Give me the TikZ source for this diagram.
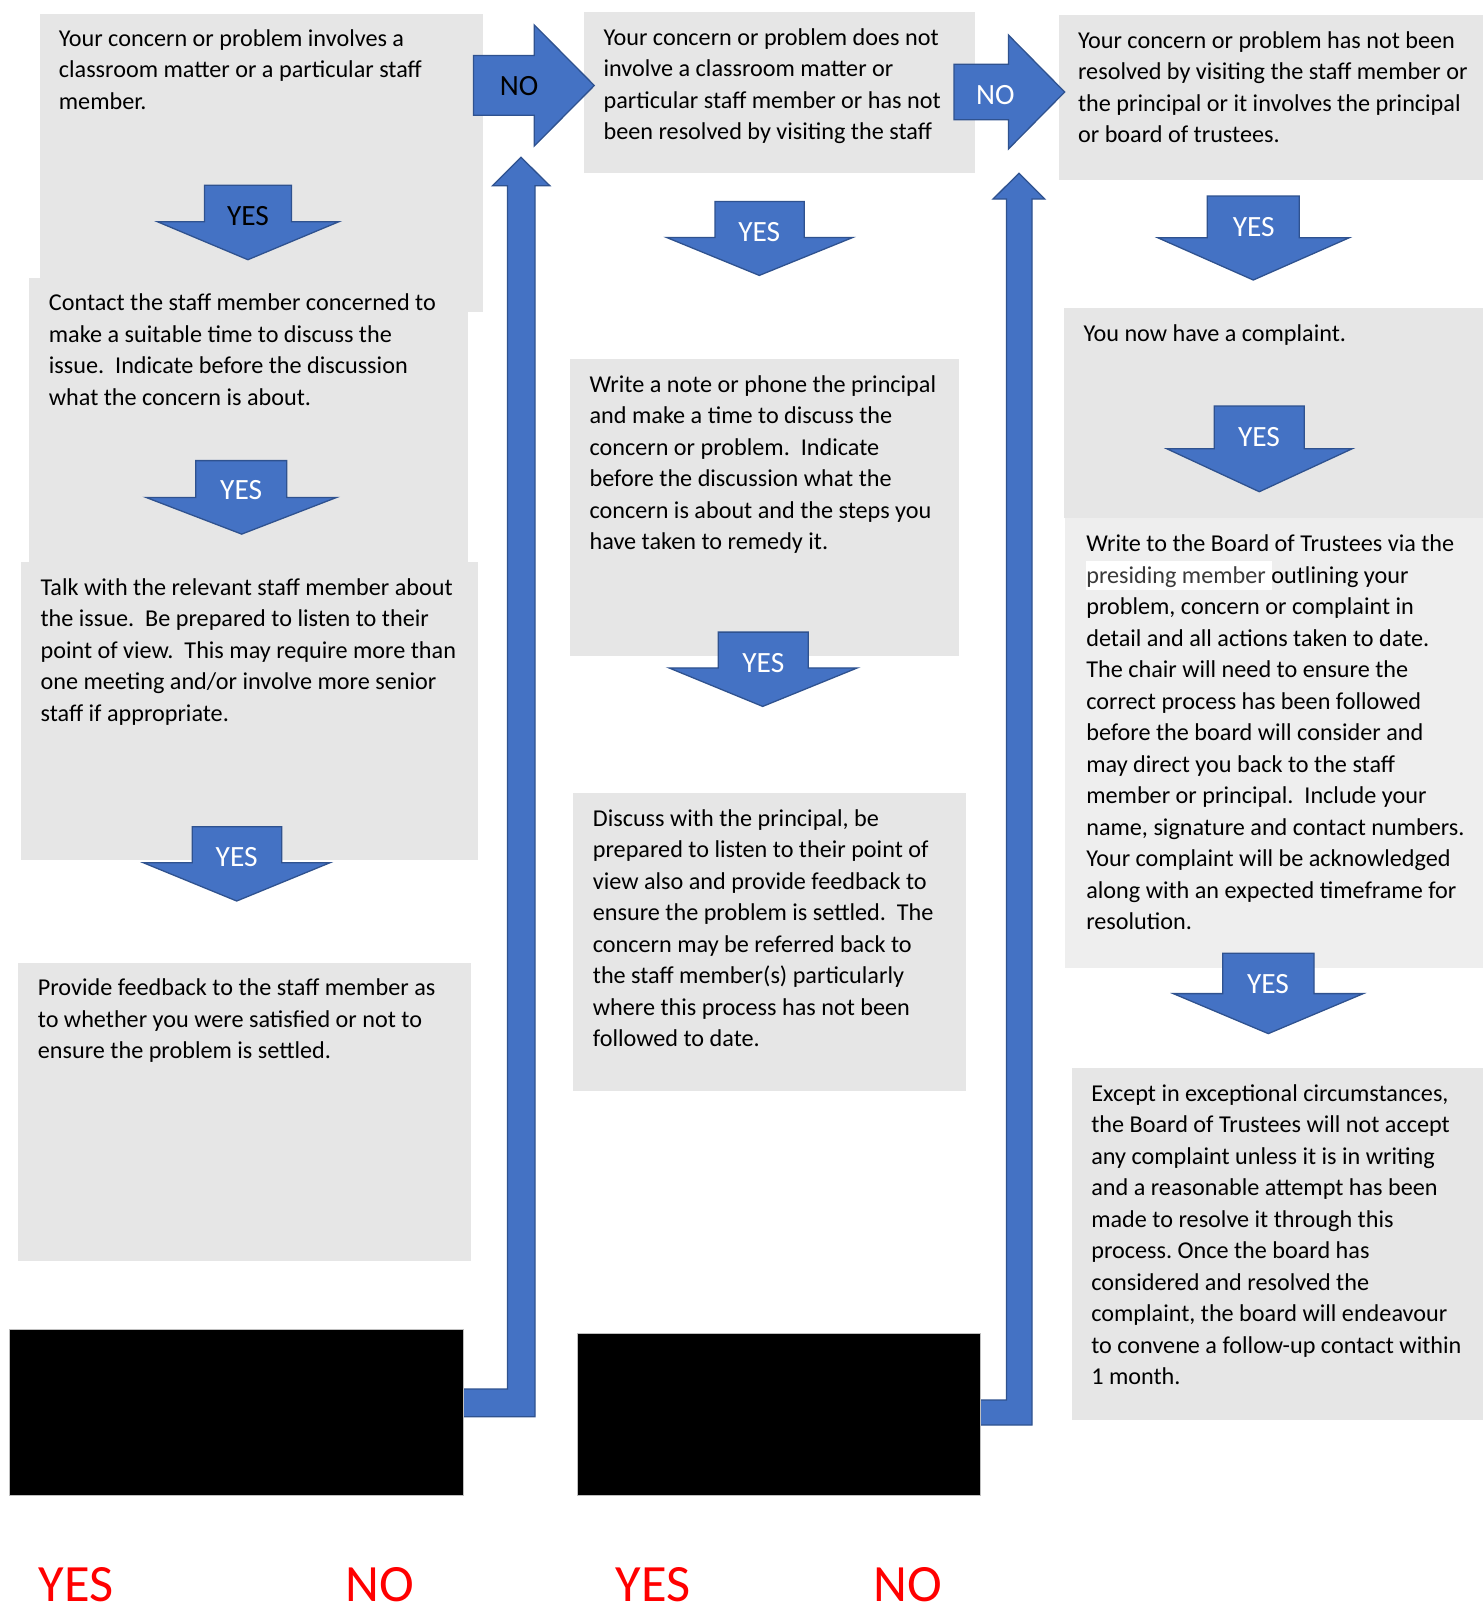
\documentclass[tikz,border=0pt]{standalone}
\usepackage{fontspec}
\setmainfont{Carlito}
\definecolor{boxgrey}{HTML}{E6E6E6}
\definecolor{boxlight}{HTML}{EEEEEE}
\definecolor{arrfill}{HTML}{4472C4}
\definecolor{arrline}{HTML}{2F528F}
\definecolor{hlgrey}{HTML}{3A3A3A}
\newcommand\txtlines[1]{\begin{tabular}[t]{@{}l@{}}#1\end{tabular}}
% shaft left, shaft right, top, head y, head left, head right, tip x, tip y
\newcommand\yesarr[8]{\draw[blk] (#1,#3) -- (#2,#3) -- (#2,#4) -- (#6,#4) -- (#7,#8) -- (#5,#4) -- (#1,#4) -- cycle;}
\tikzset{
  blk/.style={fill=arrfill, draw=arrline, line width=0.65pt, line join=miter},
  txt/.style={anchor=base west, inner sep=0pt, font=\fontsize{12.1pt}{15.75pt}\selectfont\frenchspacing},
  lbl/.style={inner sep=0pt, font=\fontsize{14.7pt}{17pt}\selectfont, text=white},
  redlbl/.style={anchor=base west, inner sep=0pt, font=\fontsize{26.2pt}{30pt}\selectfont, text=red},
  blackbox/.style={fill=black, draw=black!25, line width=0.5pt}
}
\begin{document}
\begin{tikzpicture}[x=0.5pt,y=-0.5pt]
\useasboundingbox (0,0) rectangle (1483,1614);
\fill[white] (0,0) rectangle (1483,1614);
% ---------- grey boxes ----------
\fill[boxgrey] (40,14) rectangle (483,311.5);
\fill[boxgrey] (29,278) rectangle (468,562);
\fill[boxgrey] (21,562) rectangle (477.7,860);
\fill[boxgrey] (18,963.3) rectangle (470.7,1260.7);
\fill[boxgrey] (583.5,12) rectangle (975,172.7);
\fill[boxgrey] (570,359) rectangle (959,656.4);
\fill[boxgrey] (573,793.3) rectangle (966,1090.7);
\fill[boxgrey] (1059,15) rectangle (1483,180);
\fill[boxgrey] (1064,307.7) rectangle (1483,517.7);
\fill[boxlight] (1065,517.7) rectangle (1483,967.5);
\fill[boxgrey] (1071.7,1067.5) rectangle (1483,1420);
\fill[white] (1086,561) rectangle (1272,590);
% ---------- long bent arrows ----------
\draw[blk] (450,1389) -- (507.5,1389) -- (507.5,185.7) -- (492.5,185.7) -- (521,157.3)
  -- (549.8,185.7) -- (535,185.7) -- (535,1416.7) -- (450,1416.7) -- cycle;
\draw[blk] (960,1400) -- (1006.5,1400) -- (1006.5,199) -- (993,199) -- (1019,173.3)
  -- (1044.8,199) -- (1032,199) -- (1032,1425) -- (960,1425) -- cycle;
% ---------- black boxes ----------
\node[blackbox, minimum width=227pt, minimum height=82.8pt, anchor=north west, inner sep=0pt] (blk1) at (9,1329.3) {};
\node[blackbox, minimum width=201.4pt, minimum height=80.8pt, anchor=north west, inner sep=0pt] (blk2) at (576.7,1333.3) {};
% ---------- NO arrows ----------
\draw[blk] (473.5,55.5) -- (534.3,55.5) -- (534.3,25) -- (594.3,85.5) -- (534.3,146) -- (534.3,115.3) -- (473.5,115.3) -- cycle;
\node[lbl, text=black] (no1) at (519,85.7) {NO};
\draw[blk] (954,64.3) -- (1008.4,64.3) -- (1008.4,35) -- (1064.7,92) -- (1008.4,149) -- (1008.4,119.7) -- (954,119.7) -- cycle;
\node[lbl] (no2) at (995.4,95) {NO};
% ---------- YES arrows ----------
\yesarr{204.4}{291.4}{185.3}{221.7}{157.4}{338.9}{247.9}{259.7}
\node[lbl, text=black] (yes1) at (248,215.8) {YES};
\yesarr{195.7}{286.7}{460.6}{497.4}{146}{336.7}{241.7}{534.1}
\node[lbl] (yes2) at (241.2,490.5) {YES};
\yesarr{192.3}{281.7}{826.7}{862.7}{143.3}{330}{236.7}{901}
\node[lbl] (yes3) at (236.7,857.5) {YES};
\yesarr{715}{804.3}{201.4}{237.5}{666.7}{852.7}{759.3}{275.4}
\node[lbl] (yes4) at (759.2,232) {YES};
\yesarr{718.3}{808.3}{632.1}{667.9}{669}{857.3}{762.7}{706.4}
\node[lbl] (yes5) at (763.3,662.7) {YES};
\yesarr{1207.3}{1299.3}{196}{237.7}{1157.7}{1349.3}{1253.3}{280}
\node[lbl] (yes6) at (1253.7,226.7) {YES};
\yesarr{1214.3}{1304.3}{406}{448.7}{1166.7}{1352.3}{1259.3}{491.7}
\node[lbl] (yes7) at (1259,436.8) {YES};
\yesarr{1222.7}{1314}{953.2}{993.6}{1173.3}{1363.3}{1268.3}{1033.6}
\node[lbl] (yes8) at (1268,983.6) {YES};
% ---------- texts ----------
\node[txt] (t1) at (58.5,46) {\txtlines{Your concern or problem involves a\\classroom matter or a particular staff\\member.}};
\node[txt] (t2) at (48.5,310.7) {\txtlines{Contact the staff member concerned to\\make a suitable time to discuss the\\issue.\ \ Indicate before the discussion\\what the concern is about.}};
\node[txt] (t3) at (40.2,595) {\txtlines{Talk with the relevant staff member about\\the issue.\ \ Be prepared to listen to their\\point of view.\ \ This may require more than\\one meeting and/or involve more senior\\staff if appropriate.}};
\node[txt] (t4) at (37.5,995.7) {\txtlines{Provide feedback to the staff member as\\to whether you were satisfied or not to\\ensure the problem is settled.}};
\node[txt] (t5) at (603.2,45) {\txtlines{Your concern or problem does not\\involve a classroom matter or\\particular staff member or has not\\been resolved by visiting the staff}};
\node[txt] (t6) at (589.2,392) {\txtlines{Write a note or phone the principal\\and make a time to discuss the\\concern or problem.\ \ Indicate\\before the discussion what the\\concern is about and the steps you\\have taken to remedy it.}};
\node[txt] (t7) at (592.5,826) {\txtlines{Discuss with the principal, be\\prepared to listen to their point of\\view also and provide feedback to\\ensure the problem is settled.\ \ The\\concern may be referred back to\\the staff member(s) particularly\\where this process has not been\\followed to date.}};
\node[txt] (t9) at (1077.7,48.3) {\txtlines{Your concern or problem has not been\\resolved by visiting the staff member or\\the principal or it involves the principal\\or board of trustees.}};
\node[txt] (t10) at (1083.2,341.7) {\txtlines{You now have a complaint.}};
\node[txt] (t11) at (1085.9,551.7) {\txtlines{Write to the Board of Trustees via the\\{\color{hlgrey}presiding member} outlining your\\problem, concern or complaint in\\detail and all actions taken to date.\\The chair will need to ensure the\\correct process has been followed\\before the board will consider and\\may direct you back to the staff\\member or principal.\ \ Include your\\name, signature and contact numbers.\\Your complaint will be acknowledged\\along with an expected timeframe for\\resolution.}};
\node[txt] (t12) at (1090.9,1101.4) {\txtlines{Except in exceptional circumstances,\\the Board of Trustees will not accept\\any complaint unless it is in writing\\and a reasonable attempt has been\\made to resolve it through this\\process. Once the board has\\considered and resolved the\\complaint, the board will endeavour\\to convene a follow-up contact within\\1 month.}};
% ---------- red labels ----------
\node[redlbl] (ry1) at (38.5,1601) {YES};
\node[redlbl] (rn1) at (345,1601) {NO};
\node[redlbl] (ry2) at (615.5,1601) {YES};
\node[redlbl] (rn2) at (873.5,1601) {NO};
\end{tikzpicture}
\end{document}
